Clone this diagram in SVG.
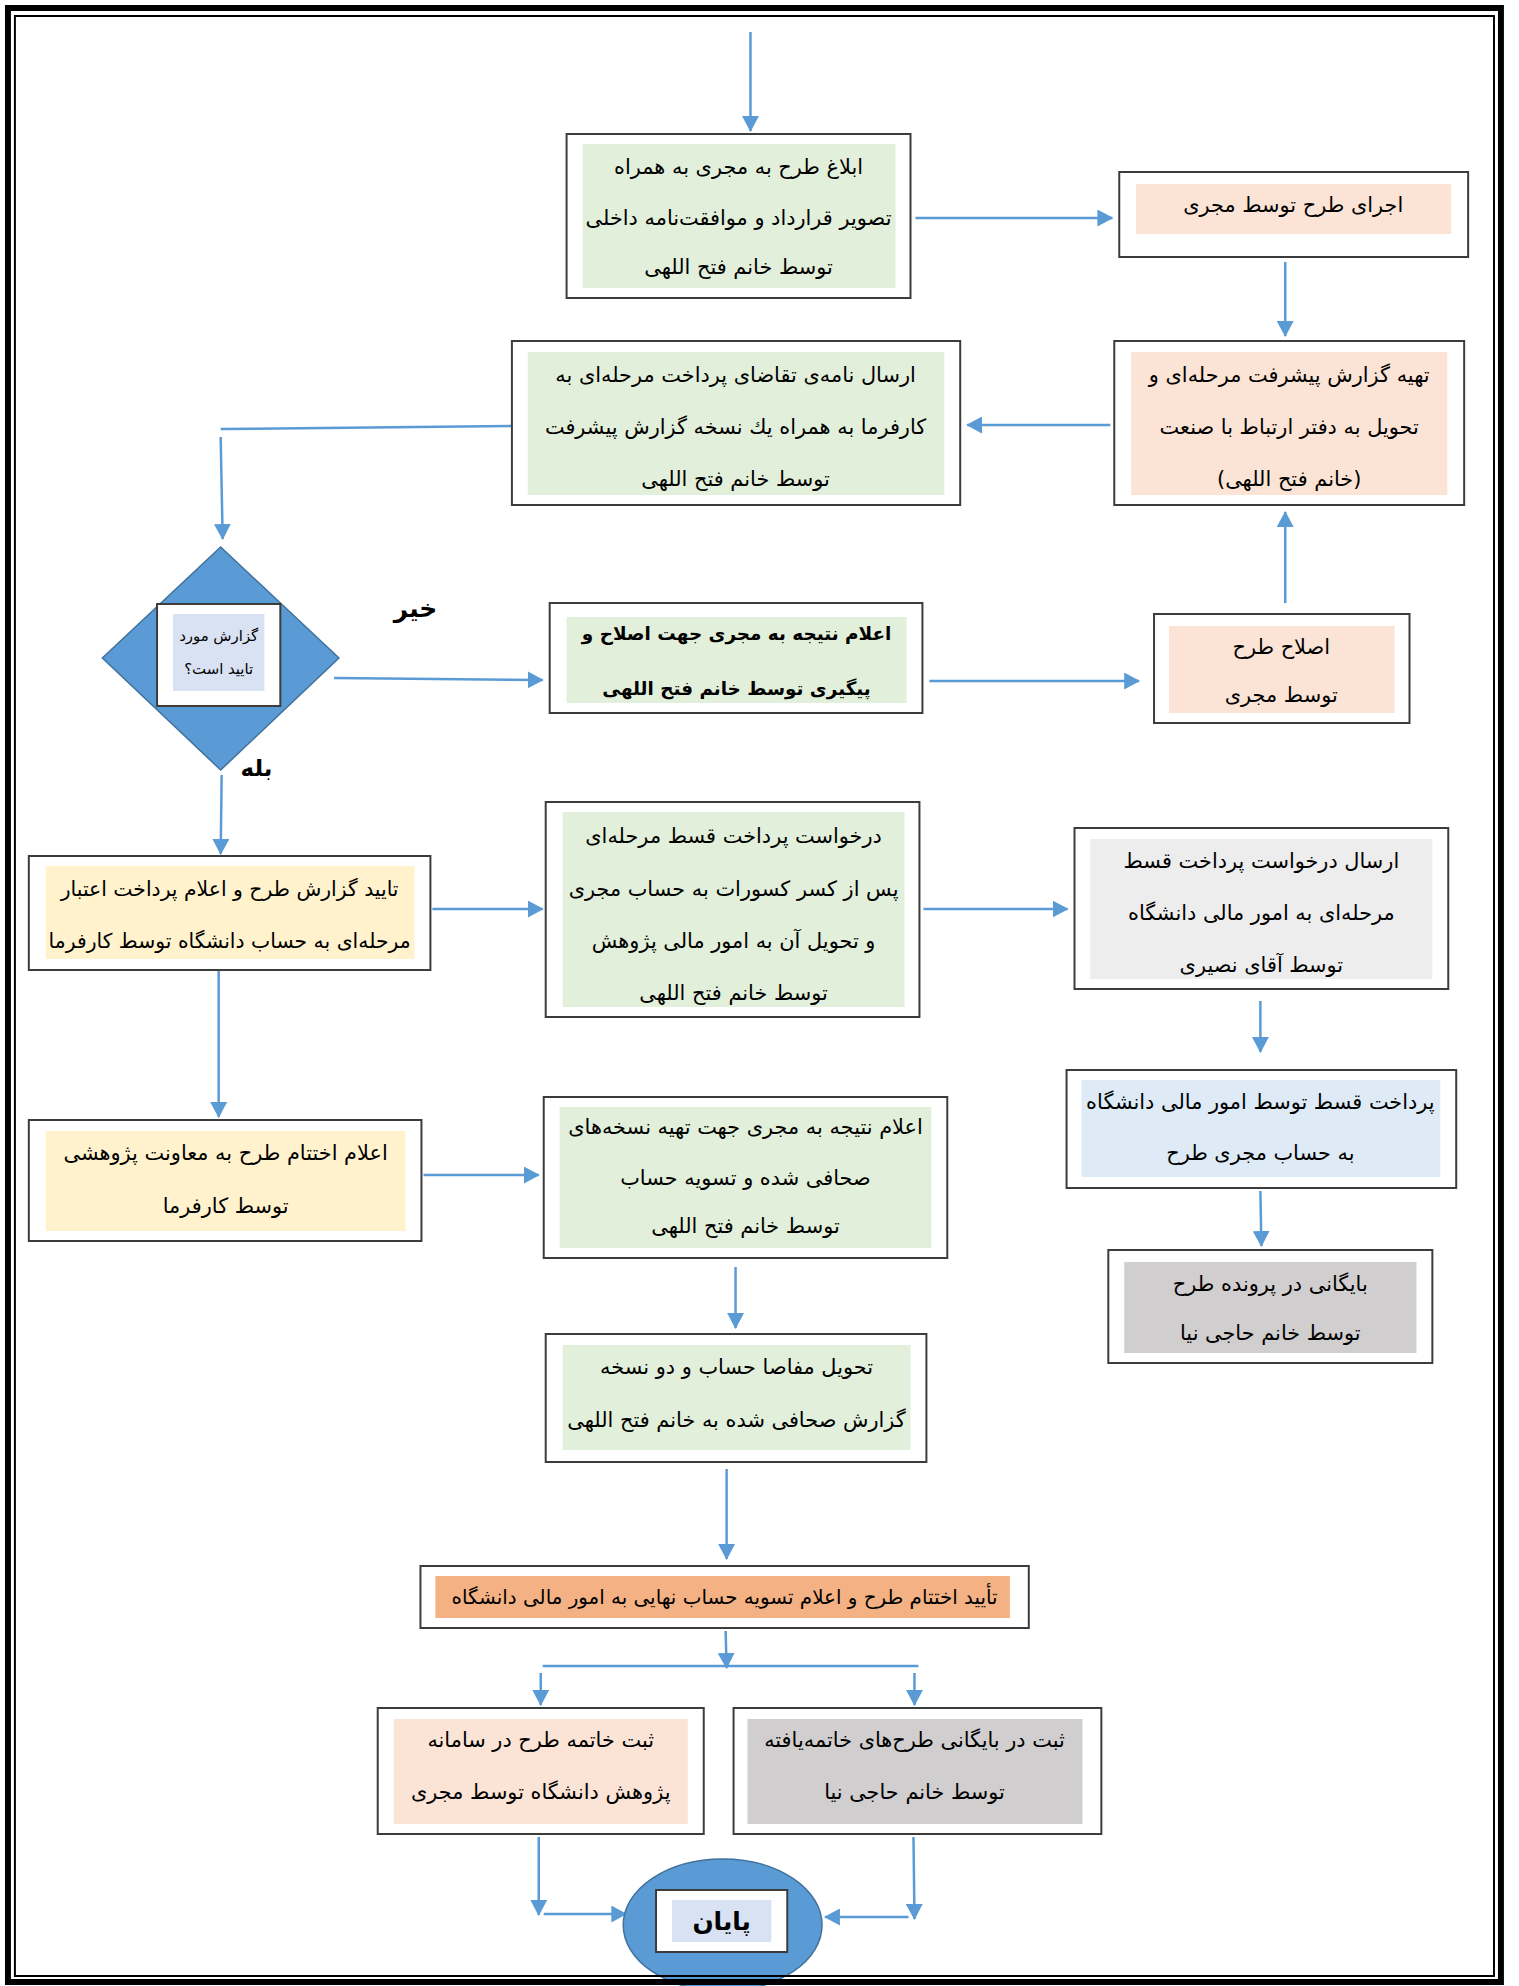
<svg xmlns="http://www.w3.org/2000/svg" width="1519" height="1986" viewBox="0 0 1519 1986">
<defs>
<marker id="ah" markerUnits="userSpaceOnUse" markerWidth="16" markerHeight="17" viewBox="0 0 16 17" refX="15" refY="8.5" orient="auto">
<path d="M0,0 L16,8.5 L0,17 z" fill="#5B9BD5"/>
</marker>
<style>
.box{fill:#fff;stroke:#3c3c3c;stroke-width:2}
.green{fill:#E2EFDA}
.peach{fill:#FBE4D5}
.yellow{fill:#FFF2CC}
.lgray{fill:#EDEDED}
.lblue{fill:#DEEBF7}
.gray{fill:#D0CECE}
.orange{fill:#F4B183}
.t{font-family:"DejaVu Sans",sans-serif;font-size:21px;fill:#000;text-anchor:middle}
.b{font-weight:bold}
.c{stroke:#5B9BD5;stroke-width:2.5;fill:none}
.a{marker-end:url(#ah)}
</style>
</defs>
<rect x="0" y="0" width="1519" height="1986" fill="#fff"/>
<g transform="scale(0.994,1)">
<g id="connectors">
<line class="c a" x1="755" y1="32" x2="755" y2="131"/>
<line class="c a" x1="921" y1="218" x2="1119" y2="218"/>
<line class="c a" x1="1293" y1="262" x2="1293" y2="336"/>
<line class="c a" x1="1117" y1="425" x2="973" y2="425"/>
<polyline class="c" points="515,426 222,429" stroke-width="1.5"/>
<line class="c a" x1="222" y1="437" x2="224" y2="539"/>
<line class="c a" x1="336" y1="678" x2="546" y2="680"/>
<line class="c a" x1="935" y1="681" x2="1146" y2="681"/>
<line class="c a" x1="1293" y1="603" x2="1293" y2="512"/>
<line class="c a" x1="223" y1="775" x2="222" y2="854"/>
<line class="c a" x1="435" y1="909" x2="546" y2="909"/>
<line class="c a" x1="929" y1="909" x2="1074" y2="909"/>
<line class="c a" x1="1268" y1="1001" x2="1268" y2="1052"/>
<line class="c a" x1="1268" y1="1191" x2="1269" y2="1246"/>
<line class="c a" x1="220" y1="969" x2="220" y2="1117"/>
<line class="c a" x1="426" y1="1175" x2="542" y2="1175"/>
<line class="c a" x1="740" y1="1267" x2="740" y2="1328"/>
<line class="c a" x1="731" y1="1469" x2="731" y2="1559"/>
<line class="c a" x1="730" y1="1631" x2="731" y2="1668"/>
<line class="c" x1="546" y1="1666" x2="924" y2="1666" stroke-width="1.5"/>
<line class="c a" x1="544" y1="1673" x2="544" y2="1705"/>
<line class="c a" x1="920" y1="1673" x2="920" y2="1705"/>
<line class="c a" x1="542" y1="1837" x2="542" y2="1915"/>
<line class="c a" x1="547" y1="1914" x2="630" y2="1914"/>
<line class="c a" x1="919" y1="1837" x2="920" y2="1919"/>
<line class="c a" x1="914" y1="1917" x2="830" y2="1917"/>
</g>

<g id="nodeA">
<rect class="box" x="570" y="134" width="346" height="164"/>
<rect class="green" x="586" y="144" width="315" height="144"/>
<text class="t" direction="rtl" x="743" y="174">ابلاغ طرح به مجری به همراه</text>
<text class="t" direction="rtl" x="743" y="225">تصویر قرارداد و موافقت&#8204;نامه داخلی</text>
<text class="t" direction="rtl" x="743" y="274">توسط خانم فتح اللهی</text>
</g>

<g id="nodeB">
<rect class="box" x="1126" y="172" width="351" height="85"/>
<rect class="peach" x="1143" y="184" width="317" height="50"/>
<text class="t" direction="rtl" x="1301" y="212">اجرای طرح توسط مجری</text>
</g>

<g id="nodeC">
<rect class="box" x="1121" y="341" width="352" height="164"/>
<rect class="peach" x="1138" y="352" width="318" height="143"/>
<text class="t" direction="rtl" x="1297" y="382">تهیه گزارش پیشرفت مرحله&#8204;ای و</text>
<text class="t" direction="rtl" x="1297" y="434">تحویل به دفتر ارتباط با صنعت</text>
<text class="t" direction="rtl" x="1297" y="486">(خانم فتح اللهی)</text>
</g>

<g id="nodeD">
<rect class="box" x="515" y="341" width="451" height="164"/>
<rect class="green" x="531" y="352" width="419" height="143"/>
<text class="t" direction="rtl" x="740" y="382">ارسال نامه&#8204;ی تقاضای پرداخت مرحله&#8204;ای به</text>
<text class="t" direction="rtl" x="740" y="434">کارفرما به همراه یك نسخه گزارش پیشرفت</text>
<text class="t" direction="rtl" x="740" y="486">توسط خانم فتح اللهی</text>
</g>

<g id="decision">
<polygon points="222,547 341,658 222,770 103,658" fill="#5B9BD5" stroke="#41719C" stroke-width="1.5"/>
<rect class="box" x="158" y="604" width="124" height="102"/>
<rect fill="#D9E2F3" x="174" y="614" width="92" height="77"/>
<text class="t" direction="rtl" x="220" y="641" style="font-size:15px">گزارش مورد</text>
<text class="t" direction="rtl" x="220" y="674" style="font-size:15px">تایید است؟</text>
</g>

<g id="labelNo">
<text class="t b" direction="rtl" x="418" y="617" style="font-size:25px">خیر</text>
</g>
<g id="labelYes">
<text class="t b" direction="rtl" x="258" y="776" style="font-size:23px">بله</text>
</g>

<g id="nodeE">
<rect class="box" x="553" y="603" width="375" height="110"/>
<rect class="green" x="570" y="617" width="342" height="86"/>
<text class="t b" direction="rtl" x="741" y="640" style="font-size:18.5px">اعلام نتیجه به مجری جهت اصلاح و</text>
<text class="t b" direction="rtl" x="741" y="695" style="font-size:18.5px">پیگیری توسط خانم فتح اللهی</text>
</g>

<g id="nodeF">
<rect class="box" x="1161" y="614" width="257" height="109"/>
<rect class="peach" x="1176" y="626" width="227" height="87"/>
<text class="t" direction="rtl" x="1289" y="654">اصلاح طرح</text>
<text class="t" direction="rtl" x="1289" y="702">توسط مجری</text>
</g>

<g id="nodeG">
<rect class="box" x="29" y="856" width="404" height="114"/>
<rect class="yellow" x="46" y="866" width="371" height="93"/>
<text class="t" direction="rtl" x="231" y="896" style="font-size:20.5px">تایید گزارش طرح و اعلام پرداخت اعتبار</text>
<text class="t" direction="rtl" x="231" y="948" style="font-size:20.5px">مرحله&#8204;ای به حساب دانشگاه توسط کارفرما</text>
</g>

<g id="nodeH">
<rect class="box" x="549" y="802" width="376" height="215"/>
<rect class="green" x="566" y="812" width="344" height="195"/>
<text class="t" direction="rtl" x="738" y="843">درخواست پرداخت قسط مرحله&#8204;ای</text>
<text class="t" direction="rtl" x="738" y="896">پس از کسر کسورات به حساب مجری</text>
<text class="t" direction="rtl" x="738" y="948">و تحویل آن به امور مالی پژوهش</text>
<text class="t" direction="rtl" x="738" y="1000">توسط خانم فتح اللهی</text>
</g>

<g id="nodeI">
<rect class="box" x="1081" y="828" width="376" height="161"/>
<rect class="lgray" x="1097" y="839" width="344" height="140"/>
<text class="t" direction="rtl" x="1269" y="868">ارسال درخواست پرداخت قسط</text>
<text class="t" direction="rtl" x="1269" y="920">مرحله&#8204;ای به امور مالی دانشگاه</text>
<text class="t" direction="rtl" x="1269" y="972">توسط آقای نصیری</text>
</g>

<g id="nodeJ">
<rect class="box" x="1073" y="1070" width="392" height="118"/>
<rect class="lblue" x="1088" y="1080" width="361" height="97"/>
<text class="t" direction="rtl" x="1268" y="1109">پرداخت قسط توسط امور مالی دانشگاه</text>
<text class="t" direction="rtl" x="1268" y="1160">به حساب مجری طرح</text>
</g>

<g id="nodeK">
<rect class="box" x="1115" y="1250" width="326" height="113"/>
<rect class="gray" x="1131" y="1262" width="294" height="91"/>
<text class="t" direction="rtl" x="1278" y="1291">بایگانی در پرونده طرح</text>
<text class="t" direction="rtl" x="1278" y="1340">توسط خانم حاجی نیا</text>
</g>

<g id="nodeL">
<rect class="box" x="29" y="1120" width="395" height="121"/>
<rect class="yellow" x="46" y="1131" width="362" height="100"/>
<text class="t" direction="rtl" x="227" y="1160">اعلام اختتام طرح به معاونت پژوهشی</text>
<text class="t" direction="rtl" x="227" y="1213">توسط کارفرما</text>
</g>

<g id="nodeM">
<rect class="box" x="547" y="1097" width="406" height="161"/>
<rect class="green" x="563" y="1107" width="374" height="141"/>
<text class="t" direction="rtl" x="750" y="1134">اعلام نتیجه به مجری جهت تهیه نسخه&#8204;های</text>
<text class="t" direction="rtl" x="750" y="1185">صحافی شده و تسویه حساب</text>
<text class="t" direction="rtl" x="750" y="1233">توسط خانم فتح اللهی</text>
</g>

<g id="nodeN">
<rect class="box" x="549" y="1334" width="383" height="128"/>
<rect class="green" x="566" y="1345" width="350" height="105"/>
<text class="t" direction="rtl" x="741" y="1374">تحویل مفاصا حساب و دو نسخه</text>
<text class="t" direction="rtl" x="741" y="1427">گزارش صحافی شده به خانم فتح اللهی</text>
</g>

<g id="nodeO">
<rect class="box" x="423" y="1566" width="612" height="62"/>
<rect class="orange" x="438" y="1576" width="578" height="42"/>
<text class="t" direction="rtl" x="729" y="1604" style="font-size:20px">تأیید اختتام طرح و اعلام تسویه حساب نهایی به امور مالی دانشگاه</text>
</g>

<g id="nodeP">
<rect class="box" x="380" y="1708" width="328" height="126"/>
<rect class="peach" x="396" y="1719" width="296" height="105"/>
<text class="t" direction="rtl" x="544" y="1747">ثبت خاتمه طرح در سامانه</text>
<text class="t" direction="rtl" x="544" y="1799">پژوهش دانشگاه توسط مجری</text>
</g>

<g id="nodeQ">
<rect class="box" x="738" y="1708" width="370" height="126"/>
<rect class="gray" x="752" y="1719" width="337" height="105"/>
<text class="t" direction="rtl" x="920" y="1747">ثبت در بایگانی طرح&#8204;های خاتمه&#8204;یافته</text>
<text class="t" direction="rtl" x="920" y="1799">توسط خانم حاجی نیا</text>
</g>

<g id="end">
<ellipse cx="727" cy="1925" rx="100" ry="66" fill="#5B9BD5" stroke="#41719C" stroke-width="1.5"/>
<rect class="box" x="660" y="1890" width="132" height="62"/>
<rect fill="#D9E2F3" x="676" y="1900" width="100" height="42"/>
<text class="t b" direction="rtl" x="726" y="1930" style="font-size:25px">پایان</text>
</g>

<g id="frame">
<rect x="8" y="8" width="1502" height="1974" fill="none" stroke="#000" stroke-width="6"/>
<rect x="15" y="16" width="1488" height="1960" fill="none" stroke="#000" stroke-width="2"/>
</g>
</g>
</svg>
